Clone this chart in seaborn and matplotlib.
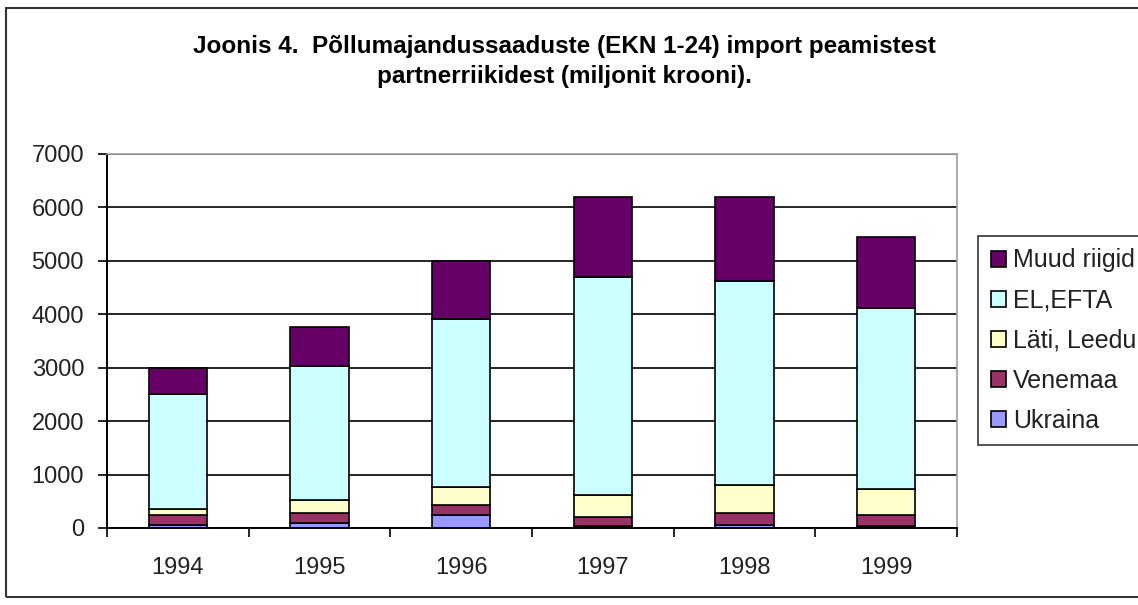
import numpy as np
import matplotlib
matplotlib.use("Agg")
import matplotlib.pyplot as plt
import seaborn as sns
from matplotlib import font_manager
from matplotlib.patches import Rectangle

# values (million kroons), stacked bottom -> top
years = ["1994", "1995", "1996", "1997", "1998", "1999"]
ukraina = [50, 90, 237, 45, 50, 45]
venemaa = [187, 190, 186, 160, 230, 192]
lati_leedu = [123, 235, 342, 405, 530, 498]
el_efta = [2140, 2515, 3155, 4090, 3810, 3375]
muud = [490, 740, 1070, 1490, 1570, 1340]

series_names = ["Ukraina", "Venemaa", "Läti, Leedu", "EL,EFTA", "Muud riigid"]
series_values = [ukraina, venemaa, lati_leedu, el_efta, muud]
series_colors = ["#9999FF", "#993366", "#FFFFCC", "#CCFFFF", "#660066"]

yticks = [0, 1000, 2000, 3000, 4000, 5000, 6000, 7000]

title = ("Joonis 4.  Põllumajandussaaduste (EKN 1-24) import peamistest\n"
         "partnerriikidest (miljonit krooni).")

installed = {f.name for f in font_manager.fontManager.ttflist}
if "Liberation Sans Narrow" in installed:
    NARROW, tick_size, title_size = "Liberation Sans Narrow", 20, 20
else:
    NARROW, tick_size, title_size = "Liberation Sans", 17, 17.5
REGULAR = "Liberation Sans" if "Liberation Sans" in installed else "DejaVu Sans"

fig = plt.figure(figsize=(11.38, 6.05), dpi=100)
fig.patch.set_facecolor("white")
W, H = 1138, 605
ax = fig.add_axes([107 / W, 1 - 528 / H, (957 - 107) / W, (528 - 154) / H])

bottom = np.zeros(len(years))
for name, vals, col in zip(series_names, series_values, series_colors):
    sns.barplot(x=years, y=vals, bottom=bottom, color=col, width=0.41,
                edgecolor="black", linewidth=1.2, errorbar=None,
                saturation=1, ax=ax)
    bottom = bottom + np.array(vals)

ax.set_xlim(-0.5, len(years) - 0.5)
ax.set_ylim(0, 7000)
ax.set_yticks(yticks)
ax.set_yticklabels([str(v) for v in yticks], family=NARROW, fontsize=tick_size,
                   color="#222222")
ax.set_xticks(range(len(years)))
ax.set_xticklabels(years, family=NARROW, fontsize=tick_size, color="#222222")
ax.set_xticks(np.arange(-0.5, len(years)), minor=True)
ax.tick_params(axis="x", which="major", length=0, pad=21)
ax.tick_params(axis="x", which="minor", length=6.5, width=1.2, color="black",
               direction="out")
ax.tick_params(axis="y", length=6.5, width=1.2, color="black", direction="out",
               pad=10)
ax.set_xlabel("")
ax.set_ylabel("")

ax.set_axisbelow(True)
ax.yaxis.grid(True, color="black", linewidth=1.2)
ax.xaxis.grid(False)
for side in ["left", "bottom"]:
    ax.spines[side].set_color("black")
    ax.spines[side].set_linewidth(1.4)
for side in ["top", "right"]:
    ax.spines[side].set_color("#a0a0a0")
    ax.spines[side].set_linewidth(1.2)

# one container per series, top series first in the legend
handles = list(ax.containers)[::-1]
labels = series_names[::-1]
leg = fig.legend(handles, labels, loc="upper left",
                 bbox_to_anchor=(978 / W, 1 - 236 / H),
                 prop={"family": REGULAR, "size": 18},
                 frameon=True, fancybox=False, shadow=False,
                 borderpad=0.5, labelspacing=0.64, handlelength=0.6,
                 handleheight=0.6, handletextpad=0.3, borderaxespad=0)
leg.get_frame().set_edgecolor("black")
leg.get_frame().set_linewidth(1.2)
for t in leg.get_texts():
    t.set_color("#222222")

fig.text(564 / W, 1 - 35 / H, title, ha="center", va="top",
         family=NARROW, fontweight="bold", fontsize=title_size,
         linespacing=1.4)

# outer chart border
fig.patches.append(Rectangle((6 / W, 8 / H), 1.2, 1 - 16 / H,
                             transform=fig.transFigure, fill=False,
                             edgecolor="#333333", linewidth=1.5))

fig.savefig("out.png", dpi=100)
